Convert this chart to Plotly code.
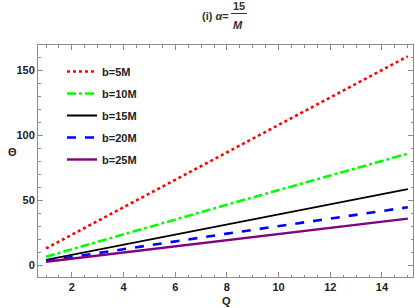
import plotly.graph_objects as go

Q = [1, 8, 15]
theta_b5 = [12.8, 86.5, 160.8]
theta_b10 = [6.4, 46.5, 85.8]
theta_b15 = [4.0, 31.5, 58.5]
theta_b20 = [3.2, 24.2, 44.5]
theta_b25 = [2.5, 19.3, 35.8]
labels = ["b=5M", "b=10M", "b=15M", "b=20M", "b=25M"]

series = [theta_b5, theta_b10, theta_b15, theta_b20, theta_b25]
colors = ["#FF0000", "#00FF00", "#000000", "#0000FF", "#800080"]
dashes = ["dot", "dashdot", "solid", "dash", "solid"]
widths = [2.6, 2.6, 2.0, 2.6, 2.4]

fig = go.Figure()
for i, (ys, lab) in enumerate(zip(series, labels)):
    fig.add_trace(go.Scatter(x=Q, y=ys, mode="lines", name=lab,
                             legendgroup=lab,
                             line=dict(color=colors[i], dash=dashes[i], width=widths[i])))

PX0, PY0 = 38, 45      # plot-area top-left in page pixels
PW, PH = 375, 232      # plot-area size


def px(xp):
    return (xp - PX0) / PW


def py(yp):
    return (PY0 + PH - yp) / PH


font_fam = "Liberation Sans, Arial, sans-serif"
axis_common = dict(showgrid=False, zeroline=False, showline=True, linecolor="#8c8c8c",
                   linewidth=1, mirror="allticks", ticks="inside", ticklen=5,
                   tickcolor="#8c8c8c", automargin=False,
                   tickfont=dict(family=font_fam, size=11, color="#222222", weight="bold"))
fig.update_layout(
    width=415, height=308,
    margin=dict(l=38, r=2, t=45, b=31, autoexpand=False),
    plot_bgcolor="white", paper_bgcolor="white",
    showlegend=True,
    legend=dict(x=px(62), y=py(57), xanchor="left", yanchor="top",
                bgcolor="rgba(0,0,0,0)", tracegroupgap=3,
                font=dict(family=font_fam, size=11, color="#222222", weight="bold")),
    xaxis=dict(range=[0.69, 15.2], tick0=2, dtick=2,
               minor=dict(ticks="inside", dtick=0.5, ticklen=2.5, tickcolor="#8c8c8c"),
               **axis_common),
    yaxis=dict(range=[-9.2, 169.5], tick0=0, dtick=50,
               minor=dict(ticks="inside", dtick=10, ticklen=2.5, tickcolor="#8c8c8c"),
               **axis_common),
)

lfont = dict(family=font_fam, size=11, color="#222222", weight="bold")
fig.add_annotation(xref="paper", yref="paper", x=px(12), y=py(152),
                   xanchor="center", yanchor="middle", showarrow=False, text="Θ", font=lfont)
fig.add_annotation(xref="paper", yref="paper", x=px(226), y=py(301),
                   xanchor="center", yanchor="middle", showarrow=False, text="Q", font=lfont)
# title: (i) α = 15/M
tfont = dict(family=font_fam, size=11, color="#333333", weight="bold")
fig.add_annotation(xref="paper", yref="paper", x=px(231), y=py(16),
                   xanchor="right", yanchor="middle", showarrow=False,
                   text="(i) <i>α</i>=", font=tfont)
fig.add_annotation(xref="paper", yref="paper", x=px(239), y=py(6),
                   xanchor="center", yanchor="middle", showarrow=False,
                   text="15", font=tfont)
fig.add_annotation(xref="paper", yref="paper", x=px(238), y=py(25.5),
                   xanchor="center", yanchor="middle", showarrow=False,
                   text="<i>M</i>", font=tfont)
fig.add_shape(type="line", xref="paper", yref="paper",
              x0=px(231), x1=px(247), y0=py(13.5), y1=py(13.5),
              line=dict(color="#333333", width=1))

fig.write_html("out.html", config={"displayModeBar": False},
               post_script="document.body.style.margin='0px';")
